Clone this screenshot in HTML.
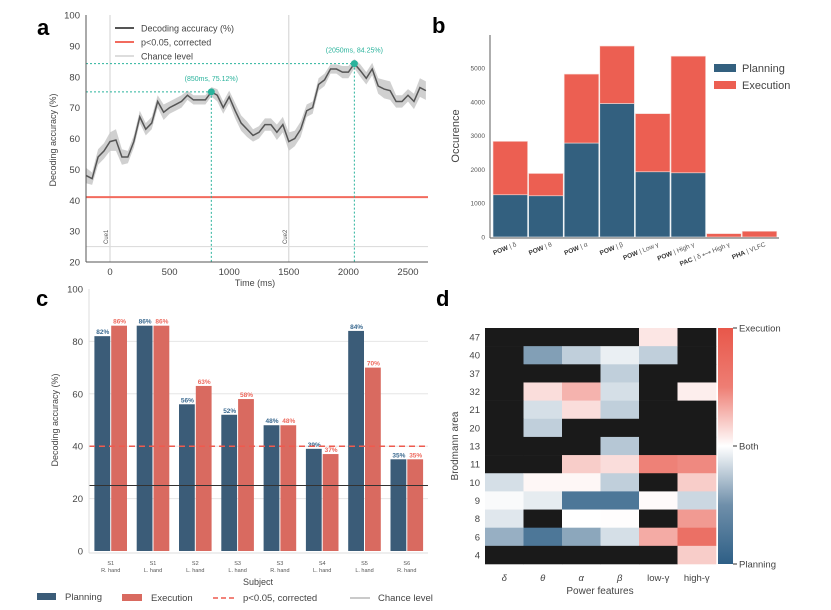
<!DOCTYPE html>
<html><head><meta charset="utf-8"><style>
body{margin:0;background:#fff;}
svg{display:block;font-family:"Liberation Sans","DejaVu Sans",sans-serif;}
</style></head><body>
<svg id="fig" width="831" height="610" viewBox="0 0 831 610" xmlns="http://www.w3.org/2000/svg">
<g id="pa"></g>
<g id="pb"></g>
<g id="pc"></g>
<g id="pd"></g>
</svg>
<script>
// ---- Panel a data ----
const aTimes = [-200,-150,-100,-50,0,50,100,150,200,250,300,350,400,450,500,550,600,650,700,750,800,850,900,950,1000,1050,1100,1150,1200,1250,1300,1350,1400,1450,1500,1550,1600,1650,1700,1750,1800,1850,1900,1950,2000,2050,2100,2150,2200,2250,2300,2350,2400,2450,2500,2550,2600,2650];
const aAcc = [48,47,54,56,59,59.5,54,54,59,67,63,65,72,68.5,70,71,72,74,72.5,72.5,72.5,75.12,74,70,73.5,69,65,63,61,62,64.5,64.5,62,64.5,59,60,63,69,70,77.5,79,82.5,82.5,81.5,81.5,84.25,82,79.5,82.5,77,76,75.5,72,72,74,72,76.5,75.5];
const aCI = [2.5,2,2.5,2.5,3,3.5,2.5,2,2,2,2,2,2,2.5,2,2,2,1.5,1.5,1.5,1.5,1.5,2,2,2,2.5,2.5,2.5,2,2,2,2,2.5,2.5,3,2.5,2.5,2,2,2,2,1.5,1.5,2,2,1.5,2,2,2,2.5,3,3,2,2,2,2.5,3,3];
const aYTicks = [20,30,40,50,60,70,80,90,100];
const aXTicks = [0,500,1000,1500,2000,2500];
const aPeaks = [[850,75.12],[2050,84.25]];
const aSig = 41, aChance = 25;
// ---- Panel b data ----
const bCats = ["δ","θ","α","β","Low γ","High γ","δ ⟷ High γ","VLFC"];
const bPrefix = ["POW","POW","POW","POW","POW","POW","PAC","PHA"];
const bPlanning = [1250,1220,2780,3950,1930,1900,0,0];
const bExecution = [1580,660,2040,1700,1720,3450,100,170];
const bYTicks = [0,1000,2000,3000,4000,5000];
// ---- Panel c data ----
const cSubjects = ["S1","S1","S2","S3","S3","S4","S5","S6"];
const cHands = ["R. hand","L. hand","L. hand","L. hand","R. hand","L. hand","L. hand","R. hand"];
const cPlanning = [82,86,56,52,48,39,84,35];
const cExecution = [86,86,63,58,48,37,70,35];
const cYTicks = [0,20,40,60,80,100];
const cSig = 40, cChance = 25;
// ---- Panel d data ----
const dRows = ["47","40","37","32","21","20","13","11","10","9","8","6","4"];
const dCols = ["δ","θ","α","β","low-γ","high-γ"];
const dVals = [
 [null,null,null,null,0.15,null],
 [null,-0.6,-0.3,-0.1,-0.3,null],
 [null,null,null,-0.3,null,null],
 [null,0.2,0.45,-0.2,null,0.1],
 [null,-0.2,0.2,-0.3,null,null],
 [null,-0.3,null,null,null,null],
 [null,null,null,-0.35,null,null],
 [null,null,0.3,0.2,0.75,0.7],
 [-0.2,0.05,0.05,-0.3,null,0.3],
 [-0.03,-0.12,-0.85,-0.85,0.03,-0.25],
 [-0.15,null,0,0.01,null,0.6],
 [-0.5,-0.85,-0.55,-0.2,0.5,0.85],
 [null,null,null,null,null,0.3]
];

const NS="http://www.w3.org/2000/svg";
function mk(parent,tag,attrs,text){const e=document.createElementNS(NS,tag);for(const k in attrs)e.setAttribute(k,attrs[k]);if(text!==undefined)e.textContent=text;parent.appendChild(e);return e;}
const GREY="#444", TEAL="#2ab39c";

// ================= Panel A =================
(function(){
const g=document.getElementById('pa');
const x=t=>110+(t)*59.6/500, y=v=>262-(v-20)*247/80;
let e=mk(g,'text',{x:37,y:35,'font-size':22,'font-weight':'bold'},'a');

[0,1500].forEach((t,i)=>{let l=mk(g,'line',{x1:x(t),x2:x(t),y1:15,y2:262,stroke:'#d0d0d0','stroke-width':1});

let tx=mk(g,'text',{x:0,y:0,'font-size':6,fill:'#555',transform:`translate(${x(t)-2},244) rotate(-90)`},'Cue'+(i+1));
});
e=mk(g,'line',{x1:86,x2:428,y1:y(aChance),y2:y(aChance),stroke:'#ddd','stroke-width':1.2});

e=mk(g,'line',{x1:86,x2:428,y1:y(aSig),y2:y(aSig),stroke:'#f26b5e','stroke-width':2});

let up=aTimes.map((t,i)=>x(t)+','+y(aAcc[i]+aCI[i]));
let lo=aTimes.map((t,i)=>x(t)+','+y(aAcc[i]-aCI[i])).reverse();
e=mk(g,'polygon',{points:up.concat(lo).join(' '),fill:'#c8c8c8',opacity:0.85});

e=mk(g,'polyline',{points:aTimes.map((t,i)=>x(t)+','+y(aAcc[i])).join(' '),fill:'none',stroke:'#555','stroke-width':1.5});

aPeaks.forEach(p=>{
 let h=mk(g,'line',{x1:86,x2:x(p[0]),y1:y(p[1]),y2:y(p[1]),stroke:TEAL,'stroke-width':1,'stroke-dasharray':'2,2'});
 
 let v=mk(g,'line',{x1:x(p[0]),x2:x(p[0]),y1:y(p[1]),y2:262,stroke:TEAL,'stroke-width':1,'stroke-dasharray':'2,2'});
 
 let c=mk(g,'circle',{cx:x(p[0]),cy:y(p[1]),r:3.5,fill:TEAL});
 
 let t=mk(g,'text',{x:x(p[0]),y:y(p[1])-11,'font-size':7,fill:TEAL,'text-anchor':'middle'},`(${p[0]}ms, ${p[1].toFixed(2)}%)`);
 
});
e=mk(g,'line',{x1:86,x2:86,y1:15,y2:262,stroke:'#555','stroke-width':1});

e=mk(g,'line',{x1:86,x2:428,y1:262,y2:262,stroke:'#555','stroke-width':1});

aYTicks.forEach(v=>{let t=mk(g,'text',{x:80,y:y(v)+3.5,'font-size':9.5,fill:GREY,'text-anchor':'end'},v);
});
aXTicks.forEach(v=>{let t=mk(g,'text',{x:x(v),y:275,'font-size':9.5,fill:GREY,'text-anchor':'middle'},v);
});
e=mk(g,'text',{x:255,y:286,'font-size':9,fill:GREY,'text-anchor':'middle'},'Time (ms)');

e=mk(g,'text',{x:0,y:0,'font-size':9,fill:GREY,'text-anchor':'middle',transform:'translate(56,140) rotate(-90)'},'Decoding accuracy (%)');

[['#555','Decoding accuracy (%)'],['#f26b5e','p<0.05, corrected'],['#ddd','Chance level']].forEach((l,i)=>{
 let yy=28+i*14;
 let ln=mk(g,'line',{x1:115,x2:134,y1:yy,y2:yy,stroke:l[0],'stroke-width':2});
 
 let t=mk(g,'text',{x:141,y:yy+3.5,'font-size':9,fill:GREY},l[1]);
 
});
})();

// ================= Panel B =================
(function(){
const g=document.getElementById('pb');
const y=v=>237-v*33.8/1000, bw=35.6, x0=493;
let e=mk(g,'text',{x:432,y:33,'font-size':22,'font-weight':'bold'},'b');

bCats.forEach((c,i)=>{
 let x=x0+i*bw;
 if(bPlanning[i]>0){let r=mk(g,'rect',{x:x,y:y(bPlanning[i]),width:bw-1,height:bPlanning[i]*33.8/1000,fill:'#33607f',stroke:'#e8eef2','stroke-width':0.6});
 }
 let top=bPlanning[i]+bExecution[i];
 let r2=mk(g,'rect',{x:x,y:y(top),width:bw-1,height:bExecution[i]*33.8/1000,fill:'#ec5f52',stroke:'#f7dcd8','stroke-width':0.6});
 
 let t=mk(g,'text',{x:0,y:0,'font-size':6.5,fill:'#555','text-anchor':'end',transform:`translate(${x+bw/2+6},246) rotate(-22)`});
 
 let s1=mk(t,'tspan',{'font-weight':'bold',fill:'#333'},bPrefix[i]);
 
 let s2=mk(t,'tspan',{},' | '+c);
 
});
e=mk(g,'line',{x1:490,x2:490,y1:35,y2:238,stroke:'#777','stroke-width':1.2});

e=mk(g,'line',{x1:490,x2:779,y1:238,y2:238,stroke:'#777','stroke-width':1.2});

bYTicks.forEach(v=>{let t=mk(g,'text',{x:485,y:y(v)+2.5,'font-size':6.5,fill:'#555','text-anchor':'end'},v);
});
e=mk(g,'text',{x:0,y:0,'font-size':11,fill:'#444','text-anchor':'middle',transform:'translate(459,136) rotate(-90)'},'Occurence');

[['#33607f','Planning'],['#ec5f52','Execution']].forEach((l,i)=>{
 let r=mk(g,'rect',{x:714,y:64+i*17,width:22,height:8,fill:l[0]});
 
 let t=mk(g,'text',{x:742,y:72+i*17,'font-size':11,fill:'#444'},l[1]);
 
});
})();

// ================= Panel C =================
(function(){
const g=document.getElementById('pc');
const y=v=>551-v*2.62, gs=42.3, bw=15.8;
let e=mk(g,'text',{x:36,y:306,'font-size':22,'font-weight':'bold'},'c');

[20,40,60,80].forEach(v=>{let l=mk(g,'line',{x1:89,x2:428,y1:y(v),y2:y(v),stroke:'#e6e6e6','stroke-width':1});
});
cSubjects.forEach((s,i)=>{
 let c=110.7+i*gs;
 let r=mk(g,'rect',{x:c-bw-0.5,y:y(cPlanning[i]),width:bw,height:cPlanning[i]*2.62,fill:'#3b5c78'});
 
 let r2=mk(g,'rect',{x:c+0.5,y:y(cExecution[i]),width:bw,height:cExecution[i]*2.62,fill:'#d96a60'});
 
 let t=mk(g,'text',{x:c-bw/2,y:y(cPlanning[i])-2,'font-size':6.5,'font-weight':'bold',fill:'#3b6a90','text-anchor':'middle'},cPlanning[i]+'%');
 
 let t2=mk(g,'text',{x:c+bw/2+1,y:y(cExecution[i])-2,'font-size':6.5,'font-weight':'bold',fill:'#ee6a5e','text-anchor':'middle'},cExecution[i]+'%');
 
 let a=mk(g,'text',{x:c,y:565,'font-size':5.5,fill:'#555','text-anchor':'middle'},s);
 
 let b=mk(g,'text',{x:c,y:572,'font-size':5.5,fill:'#555','text-anchor':'middle'},cHands[i]);
 
});
e=mk(g,'line',{x1:89,x2:428,y1:y(cSig),y2:y(cSig),stroke:'#ee5a4e','stroke-width':1.5,'stroke-dasharray':'6,4'});

e=mk(g,'line',{x1:89,x2:428,y1:y(cChance),y2:y(cChance),stroke:'#333','stroke-width':1});

e=mk(g,'line',{x1:89,x2:89,y1:289,y2:553,stroke:'#ddd','stroke-width':1});

e=mk(g,'line',{x1:89,x2:428,y1:553,y2:553,stroke:'#ddd','stroke-width':1});

cYTicks.forEach(v=>{let t=mk(g,'text',{x:83,y:y(v)+3.5,'font-size':9.5,fill:GREY,'text-anchor':'end'},v);
});
e=mk(g,'text',{x:258,y:585,'font-size':9,fill:GREY,'text-anchor':'middle'},'Subject');

e=mk(g,'text',{x:0,y:0,'font-size':9,fill:GREY,'text-anchor':'middle',transform:'translate(58,420) rotate(-90)'},'Decoding accuracy (%)');

e=mk(g,'rect',{x:37,y:593,width:19,height:7,fill:'#3b5c78'});
e=mk(g,'text',{x:65,y:600,'font-size':9.5,fill:GREY},'Planning');
e=mk(g,'rect',{x:122,y:594,width:20,height:7,fill:'#d96a60'});
e=mk(g,'text',{x:151,y:601,'font-size':9.5,fill:GREY},'Execution');
e=mk(g,'line',{x1:213,x2:235,y1:598,y2:598,stroke:'#ee5a4e','stroke-width':1.5,'stroke-dasharray':'5,3'});
e=mk(g,'text',{x:243,y:601,'font-size':9.5,fill:GREY},'p<0.05, corrected');
e=mk(g,'line',{x1:350,x2:370,y1:598,y2:598,stroke:'#aaa','stroke-width':1.2});
e=mk(g,'text',{x:378,y:601,'font-size':9.5,fill:GREY},'Chance level');
})();

// ================= Panel D =================
(function(){
const g=document.getElementById('pd');
const L=485,R=716,T=328,B=564, cw=(R-L)/dCols.length, rh=(B-T)/dRows.length;
function col(v){
 const w=[255,255,255], b=[46,95,134], r=[232,87,74];
 const t=Math.abs(v), tgt=v<0?b:r;
 return 'rgb('+w.map((c,i)=>Math.round(c+(tgt[i]-c)*t)).join(',')+')';
}
let e=mk(g,'text',{x:436,y:306,'font-size':22,'font-weight':'bold'},'d');

dRows.forEach((rn,ri)=>{
 dCols.forEach((cn,ci)=>{
  const v=dVals[ri][ci];
  let r=mk(g,'rect',{x:L+ci*cw,y:T+ri*rh,width:cw+0.3,height:rh+0.3,fill:v===null?'#1a1a1a':col(v)});
  
 });
 let t=mk(g,'text',{x:480,y:T+ri*rh+rh/2+3.5,'font-size':9.5,fill:GREY,'text-anchor':'end'},rn);
 
});
dCols.forEach((cn,ci)=>{let t=mk(g,'text',{x:L+ci*cw+cw/2,y:581,'font-size':9.5,fill:GREY,'text-anchor':'middle','font-style':ci<4?'italic':'normal'},cn);
});
e=mk(g,'text',{x:600,y:594,'font-size':10,fill:GREY,'text-anchor':'middle'},'Power features');

e=mk(g,'text',{x:0,y:0,'font-size':10,fill:GREY,'text-anchor':'middle',transform:'translate(458,446) rotate(-90)'},'Brodmann area');

const defs=mk(g,'defs',{});
const lg=mk(defs,'linearGradient',{id:'cb',x1:0,y1:0,x2:0,y2:1});
[[0,'#e8574a'],[0.25,'#ee7e74'],[0.5,'#ffffff'],[0.75,'#6f8faa'],[1,'#2e5f86']].forEach(s=>mk(lg,'stop',{offset:s[0],'stop-color':s[1]}));
e=mk(g,'rect',{x:718,y:T,width:15,height:B-T,fill:'url(#cb)'});

[['Execution',T],['Both',(T+B)/2],['Planning',B]].forEach(l=>{
 let tk=mk(g,'line',{x1:733,x2:737,y1:l[1],y2:l[1],stroke:'#333','stroke-width':1});
 
 let t=mk(g,'text',{x:739,y:l[1]+3.5,'font-size':9.5,fill:GREY},l[0]);
 
});
})();
</script>
</body></html>
